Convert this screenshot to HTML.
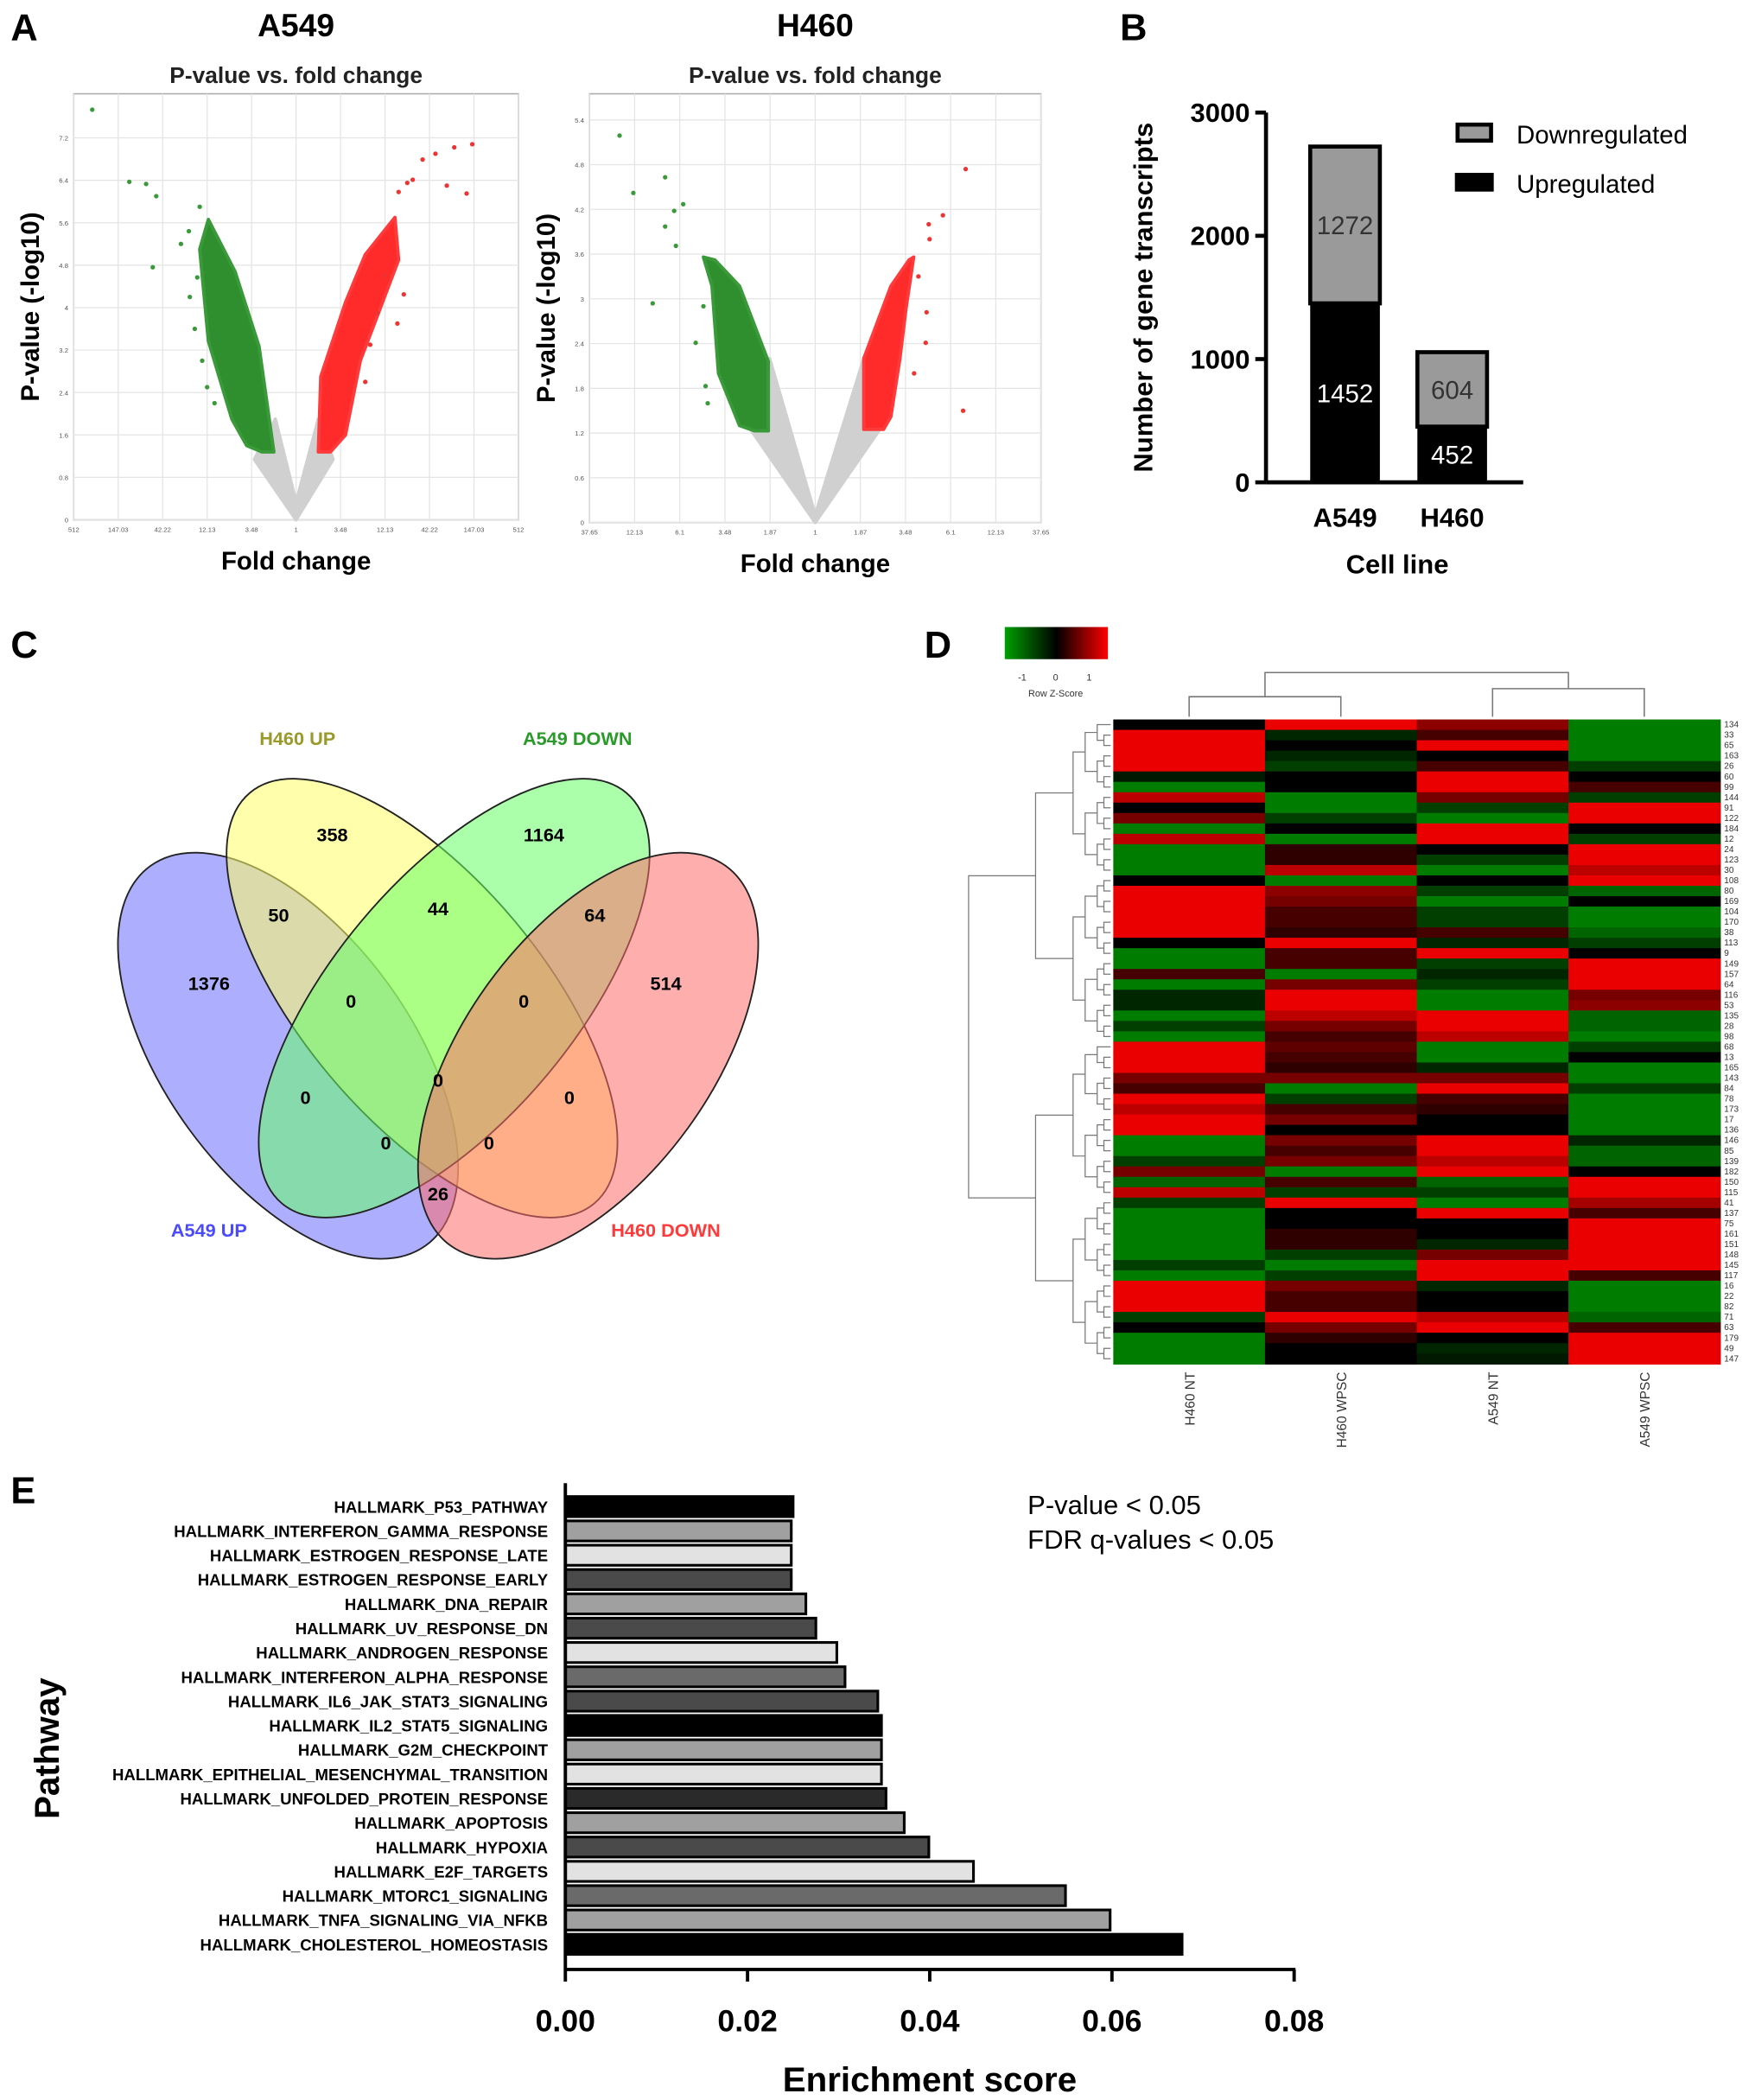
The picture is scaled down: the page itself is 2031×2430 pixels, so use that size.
<!DOCTYPE html>
<html><head><meta charset="utf-8"><style>
html,body{margin:0;padding:0;background:#fff}
svg{display:block;font-family:"Liberation Sans",Arial,sans-serif}
</style></head><body>
<svg id="fig" width="2031" height="2430" viewBox="0 0 1310 1567.4" xmlns="http://www.w3.org/2000/svg">
<g font-weight="bold" font-size="28">
<text x="8" y="30">A</text>
<text x="836" y="30">B</text>
<text x="8" y="491">C</text>
<text x="690" y="491">D</text>
<text x="8" y="1122">E</text>
</g>
<g id="volcA"></g>
<g id="volcH"></g>
<g id="barB"></g>
<g id="venn"></g>
<g id="heat"></g>
<g id="barE"></g>
</svg>
<script>
const NS="http://www.w3.org/2000/svg";
function el(p,tag,attrs,txt){const e=document.createElementNS(NS,tag);for(const k in attrs)e.setAttribute(k,attrs[k]);if(txt!==undefined)e.textContent=txt;p.appendChild(e);return e;}

// ---------- Panel A data ----------
const volcA_yTicks=["0","0.8","1.6","2.4","3.2","4","4.8","5.6","6.4","7.2"];
const volcA_xTicks=["512","147.03","42.22","12.13","3.48","1","3.48","12.13","42.22","147.03","512"];
const volcA_downFC=[-8.25,-6.75,-6.07,-5.66,-5.8,-4.66,-4.34,-3.9,-4.0,-4.3,-4.1,-3.8,-3.6,-3.3];
const volcA_downP=[7.73,6.37,6.33,6.1,4.76,5.2,5.44,5.9,4.57,4.2,3.6,3.0,2.5,2.2];
const volcA_upFC=[7.13,6.4,5.64,5.12,4.72,4.5,6.1,6.9,4.15,4.36,4.1,3.6,3.3,3.0,2.8];
const volcA_upP=[7.08,7.02,6.9,6.79,6.41,6.35,6.3,6.15,6.18,4.25,3.7,4.6,3.9,3.3,2.6];
const volcH_yTicks=["0","0.6","1.2","1.8","2.4","3","3.6","4.2","4.8","5.4"];
const volcH_xTicks=["37.65","12.13","6.1","3.48","1.87","1","1.87","3.48","6.1","12.13","37.65"];
const volcH_downFC=[-4.55,-3.49,-4.23,-3.78,-3.28,-3.07,-3.49,-3.24,-2.55,-2.78,-2.6,-2.5];
const volcH_downP=[5.19,4.63,4.42,2.94,4.18,4.27,3.97,3.71,1.83,2.41,2.9,1.6];
const volcH_upFC=[3.5,2.97,2.64,2.66,2.57,3.44,2.59,2.4,2.3];
const volcH_upP=[4.74,4.12,4.0,3.8,2.41,1.5,2.82,3.3,2.0];

function volcano(gid,title,x0,x1,y0,y1,fcMax,pMax,yTicks,yStep,xTicks,dFC,dP,uFC,uP,shapes){
  const g=document.getElementById(gid);
  const cx=(x0+x1)/2;
  const sx=v=>cx+v/fcMax*(x1-x0)/2, sy=v=>y1-v/pMax*(y1-y0);
  el(g,"text",{x:cx,y:27,"font-size":24,"font-weight":"bold","text-anchor":"middle",},title);
  el(g,"text",{x:cx,y:y0-8,"font-size":17,"font-weight":"bold","text-anchor":"middle","fill":"#222",},"P-value vs. fold change");
  el(g,"rect",{x:x0,y:y0,width:x1-x0,height:y1-y0,fill:"#fff",stroke:"#aaa","stroke-width":1,});
  yTicks.forEach((t,i)=>{const y=sy(i*yStep);
    const l=el(g,"line",{x1:x0,x2:x1,y1:y,y2:y,stroke:"#e4e4e4","stroke-width":0.8});
    
    
    const tx=el(g,"text",{x:x0-4,y:y+2,"font-size":5,"text-anchor":"end",fill:"#555"},t);
    
    });
  xTicks.forEach((t,i)=>{const x=x0+i*(x1-x0)/(xTicks.length-1);
    const l=el(g,"line",{x1:x,x2:x,y1:y0,y2:y1,stroke:"#e4e4e4","stroke-width":0.8});
    
    
    const tx=el(g,"text",{x:x,y:y1+9,"font-size":5,"text-anchor":"middle",fill:"#555"},t);
    
    });
  for(const s of shapes){
    const pts=s.pts.map(p=>sx(p[0])+","+sy(p[1])).join(" ");
    const pg=el(g,"polygon",{points:pts,fill:s.c,stroke:s.st,"stroke-width":2.5,"stroke-linejoin":"round"});
    
    
  }
  dFC.forEach((v,i)=>{const c=el(g,"circle",{cx:sx(v),cy:sy(dP[i]),r:1.7,fill:"#3a9a3a"});
    
    });
  uFC.forEach((v,i)=>{const c=el(g,"circle",{cx:sx(v),cy:sy(uP[i]),r:1.7,fill:"#ee3333"});
    
    });
  el(g,"text",{x:cx,y:y1+37,"font-size":19,"font-weight":"bold","text-anchor":"middle",},"Fold change");
  el(g,"text",{x:0,y:0,"font-size":19,"font-weight":"bold","text-anchor":"middle",transform:`translate(${x0-26},${(y0+y1)/2}) rotate(-90)`,},"P-value (-log10)");
}
const shapesA=[
 {n:"nonsig-cloud",c:"#d0d0d0",st:"#d0d0d0",pts:[[-1.69,1.14],[0,0],[1.5,1.14],[0.9,1.9],[0,0.33],[-0.84,1.9]]},
 {n:"down-cloud",c:"#2f8f2f",st:"#3a9a3a",pts:[[-1.38,1.28],[-0.9,1.28],[-1.5,3.27],[-2.47,4.68],[-3.55,5.66],[-3.9,5.1],[-3.55,3.37],[-2.6,1.9],[-2.0,1.4]]},
 {n:"up-cloud",c:"#ff2a2a",st:"#ff3a3a",pts:[[0.9,1.28],[1.39,1.28],[2.0,1.6],[2.6,3.0],[4.15,4.9],[4.0,5.7],[2.8,5.0],[2.0,4.1],[1.0,2.7]]}
];
volcano("volcA","A549",55,387,70,388,9,8.03,volcA_yTicks,0.8,volcA_xTicks,volcA_downFC,volcA_downP,volcA_upFC,volcA_upP,shapesA);
const shapesH=[
 {n:"nonsig-cloud",c:"#d0d0d0",st:"#d0d0d0",pts:[[-1.48,1.23],[0,0],[1.48,1.23],[1.13,2.2],[0,0.1],[-1.06,2.2]]},
 {n:"down-cloud",c:"#2f8f2f",st:"#3a9a3a",pts:[[-1.41,1.23],[-1.09,1.23],[-1.09,2.16],[-1.76,3.17],[-2.33,3.52],[-2.6,3.56],[-2.4,3.17],[-2.25,2.0],[-1.76,1.3]]},
 {n:"up-cloud",c:"#ff2a2a",st:"#ff3a3a",pts:[[1.13,1.25],[1.59,1.25],[1.76,1.42],[1.97,2.2],[2.11,2.86],[2.29,3.56],[2.18,3.52],[1.76,3.17],[1.13,2.2]]}
];
volcano("volcH","H460",440,777,70,390,5.25,5.75,volcH_yTicks,0.6,volcH_xTicks,volcH_downFC,volcH_downP,volcH_upFC,volcH_upP,shapesH);

// ---------- Panel B ----------
const bCats=["A549","H460"];
const bUp=[1452,452];
const bDown=[1272,604];
const bTicks=[0,1000,2000,3000];
(function(){
  const g=document.getElementById("barB");
  const y0=360,ppu=276/3000,ax=945;
  const sy=v=>y0-v*ppu;
  el(g,"line",{x1:ax,y1:sy(3000),x2:ax,y2:y0,stroke:"#000","stroke-width":3,});
  el(g,"line",{x1:ax,y1:y0,x2:1137,y2:y0,stroke:"#000","stroke-width":3,});
  bTicks.forEach(t=>{
    const l=el(g,"line",{x1:ax-8,y1:sy(t),x2:ax,y2:sy(t),stroke:"#000","stroke-width":3});
    
    
    const tx=el(g,"text",{x:ax-12,y:sy(t)+7,"font-size":20,"font-weight":"bold","text-anchor":"end"},t);
    
    
  });
  bCats.forEach((c,i)=>{
    const x=978+i*80,w=52;
    const r1=el(g,"rect",{x:x,y:sy(bUp[i]),width:w,height:bUp[i]*ppu,fill:"#000"});
    
    
    const r2=el(g,"rect",{x:x,y:sy(bUp[i]+bDown[i]),width:w,height:bDown[i]*ppu,fill:"#9a9a9a",stroke:"#000","stroke-width":3});
    
    
    const t1=el(g,"text",{x:x+w/2,y:sy(bUp[i]/2)+7,"font-size":19,fill:"#fff","text-anchor":"middle"},bUp[i]);
    
    
    const t2=el(g,"text",{x:x+w/2,y:sy(bUp[i]+bDown[i]/2)+7,"font-size":19,fill:"#333","text-anchor":"middle"},bDown[i]);
    
    
    const t3=el(g,"text",{x:x+w/2,y:393,"font-size":20,"font-weight":"bold","text-anchor":"middle"},c);
    
    
  });
  el(g,"text",{x:1043,y:428,"font-size":20,"font-weight":"bold","text-anchor":"middle",},"Cell line");
  el(g,"text",{x:0,y:0,"font-size":20,"font-weight":"bold","text-anchor":"middle",transform:"translate(860,222) rotate(-90)",},"Number of gene transcripts");
  el(g,"rect",{x:1088,y:93,width:25,height:12,fill:"#9a9a9a",stroke:"#000","stroke-width":3,});
  el(g,"text",{x:1132,y:107,"font-size":19,},"Downregulated");
  el(g,"rect",{x:1086,y:129,width:29,height:14,fill:"#000",});
  el(g,"text",{x:1132,y:144,"font-size":19,},"Upregulated");
})();

// ---------- Panel C ----------
(function(){
  const g=document.getElementById("venn");
  const E=[["venn-a549-up",215,788,92,175,-36,"#6b6bff"],["venn-h460-up",315,745,90,200,-40,"#ffff66"],["venn-a549-down",339,745,90,200,40,"#66ff66"],["venn-h460-down",439,788,92,175,36,"#ff6b6b"]];
  E.forEach(e=>{const o=el(g,"ellipse",{cx:e[1],cy:e[2],rx:e[3],ry:e[4],transform:`rotate(${e[5]} ${e[1]} ${e[2]})`,fill:e[6],"fill-opacity":0.55,stroke:"#222","stroke-width":1.2});
    
    });
  const N=[[248,628,"358"],[406,628,"1164"],[156,739,"1376"],[497,739,"514"],[208,688,"50"],[327,683,"44"],[444,688,"64"],[262,752,"0"],[391,752,"0"],[327,811,"0"],[228,824,"0"],[425,824,"0"],[288,858,"0"],[365,858,"0"],[327,896,"26"]];
  N.forEach(n=>{const t=el(g,"text",{x:n[0],y:n[1],"font-size":14,"font-weight":"bold","text-anchor":"middle"},n[2]);
    
    });
  const L=[[222,556,"H460 UP","#9a9a2a"],[431,556,"A549 DOWN","#2a9a2a"],[156,923,"A549 UP","#4a4aff"],[497,923,"H460 DOWN","#ff3a3a"]];
  L.forEach(l=>{const t=el(g,"text",{x:l[0],y:l[1],"font-size":14,"font-weight":"bold","text-anchor":"middle",fill:l[3]},l[2]);
    
    });
})();

// ---------- Panel D ----------
const hmRows=["134","33","65","163","26","60","99","144","91","122","184","12","24","123","30","108","80","169","104","170","38","113","9","149","157","64","116","53","135","28","98","68","13","165","143","84","78","173","17","136","146","85","139","182","150","115","41","137","75","161","151","148","145","117","16","22","82","71","63","179","49","147"];
const hmCols=["H460 NT","H460 WPSC","A549 NT","A549 WPSC"];
const hmH460NT=[0,1,1,1,1,-0.2,-1,0.8,0,0.5,-1,0.8,-1,-1,-1,0,1,1,1,1,1,0,-1,-1,0.3,-1,-0.3,-0.3,-1,-0.5,-1,1,1,1,0.5,0.3,1,0.8,1,1,-1,-1,-0.5,0.5,-0.8,0.8,-0.5,-1,-1,-1,-1,-1,-0.5,-1,1,1,1,-0.5,0,-1,-1,-1];
const hmH460WPSC=[1,-0.3,0,-0.3,-0.5,0,0,-1,-1,-0.5,0,-1,0.2,0.2,0.8,-1,0.6,0.5,0.3,0.3,0.2,1,0.3,0.3,-1,0.5,1,1,0.8,0.5,0.3,0.4,0.3,0.2,0.5,-1,-0.5,0.3,0.5,0,0.5,0.3,0.5,-1,0.3,-0.5,1,0,0,0.2,0.2,-0.5,-1,-0.5,0.5,0.3,0.3,1,0.5,0.2,0,0];
const hmA549NT=[0.6,0.3,1,0,0.3,1,1,0.5,-0.5,-1,1,1,0,-0.5,-1,0,-0.5,-1,-0.5,-0.5,0.3,-0.3,1,-0.5,-0.3,-0.5,-1,-1,1,1,0.8,-1,-1,-0.3,0.5,1,0.3,0.2,0,0,1,1,0.8,1,-0.8,-0.5,-1,1,0,0,-0.3,0.5,1,1,-0.3,0,0,0.8,1,0,-0.3,-0.2];
const hmA549WPSC=[-1,-1,-1,-1,-0.5,0,0.3,-0.5,1,1,0,-0.5,1,1,0.8,1,-0.8,0,-1,-1,-0.8,-0.5,0,1,1,1,0.5,0.6,-0.8,-0.8,-1,-0.5,0,-1,-1,-0.5,-1,-1,-1,-1,-0.3,-0.8,-0.8,0,1,1,0.7,0.3,1,1,1,1,1,0.3,-1,-1,-1,-0.8,0.3,1,1,1];
(function(){
  const g=document.getElementById("heat");
  const X0=831,X1=1284,Y0=537,Y1=1018;
  const cw=(X1-X0)/hmCols.length, rh=(Y1-Y0)/hmRows.length;
  const data=[hmH460NT,hmH460WPSC,hmA549NT,hmA549WPSC];
  function col(v){v=Math.max(-1,Math.min(1,v));if(v>=0)return `rgb(${Math.round(235*v)},0,0)`;return `rgb(0,${Math.round(-125*v)},0)`;}
  data.forEach((arr,c)=>arr.forEach((v,r)=>{
    const rc=el(g,"rect",{x:X0+c*cw,y:Y0+r*rh,width:cw+0.5,height:rh+0.5,fill:col(v)});
    
    
  }));
  hmRows.forEach((l,r)=>{const t=el(g,"text",{x:X1+3,y:Y0+r*rh+rh/2+2,"font-size":6.5,fill:"#333"},l);
    
    });
  hmCols.forEach((l,c)=>{const t=el(g,"text",{x:0,y:0,"font-size":10,fill:"#333","text-anchor":"end",transform:`translate(${X0+c*cw+cw/2+4},${Y1+6}) rotate(-90)`},l);
    
    });
  const cxs=hmCols.map((_,c)=>X0+c*cw+cw/2);
  const dp=`M${cxs[0]},${Y0-2}V520H${cxs[1]}V${Y0-2} M${cxs[2]},${Y0-2}V514H${cxs[3]}V${Y0-2} M${(cxs[0]+cxs[1])/2},520V502H${(cxs[2]+cxs[3])/2}V514`;
  el(g,"path",{d:dp,fill:"none",stroke:"#777","stroke-width":1,});
  let d="";
  function node(a,b,depth){
    if(b-a<=1){return [Y0+a*rh+rh/2,829];}
    const m=Math.floor((a+b)/2);
    const L=node(a,m,depth+1),R=node(m,b,depth+1);
    const x=Math.min(L[1],R[1])-(depth<2?(depth==0?50:28):(b-a>6?9:5));
    d+=`M${L[1]},${L[0]}H${x}V${R[0]}H${R[1]}`;
    return [(L[0]+R[0])/2,x];
  }
  node(0,hmRows.length,0);
  el(g,"path",{d:d,fill:"none",stroke:"#777","stroke-width":0.8,});
  const defs=el(g,"defs",{});
  const lg=el(defs,"linearGradient",{id:"zk",x1:"0",x2:"1",y1:"0",y2:"0"});
  el(lg,"stop",{offset:"0","stop-color":"#00a000"});el(lg,"stop",{offset:"0.5","stop-color":"#000"});el(lg,"stop",{offset:"1","stop-color":"#ff0000"});
  el(g,"rect",{x:750,y:468,width:77,height:24,fill:"url(#zk)",});
  [["-1",763],["0",788],["1",813]].forEach(k=>{const t=el(g,"text",{x:k[1],y:508,"font-size":7,"text-anchor":"middle",fill:"#333"},k[0]);
    
    });
  el(g,"text",{x:788,y:520,"font-size":7,"text-anchor":"middle",fill:"#333",},"Row Z-Score");
})();

// ---------- Panel E ----------
const eNames=["HALLMARK_P53_PATHWAY","HALLMARK_INTERFERON_GAMMA_RESPONSE","HALLMARK_ESTROGEN_RESPONSE_LATE","HALLMARK_ESTROGEN_RESPONSE_EARLY","HALLMARK_DNA_REPAIR","HALLMARK_UV_RESPONSE_DN","HALLMARK_ANDROGEN_RESPONSE","HALLMARK_INTERFERON_ALPHA_RESPONSE","HALLMARK_IL6_JAK_STAT3_SIGNALING","HALLMARK_IL2_STAT5_SIGNALING","HALLMARK_G2M_CHECKPOINT","HALLMARK_EPITHELIAL_MESENCHYMAL_TRANSITION","HALLMARK_UNFOLDED_PROTEIN_RESPONSE","HALLMARK_APOPTOSIS","HALLMARK_HYPOXIA","HALLMARK_E2F_TARGETS","HALLMARK_MTORC1_SIGNALING","HALLMARK_TNFA_SIGNALING_VIA_NFKB","HALLMARK_CHOLESTEROL_HOMEOSTASIS"];
const eScores=[0.025,0.0248,0.0248,0.0248,0.0264,0.0275,0.0298,0.0307,0.0343,0.0347,0.0347,0.0347,0.0352,0.0372,0.0399,0.0448,0.0549,0.0598,0.0677];
const eTicks=["0.00","0.02","0.04","0.06","0.08"];
(function(){
  const g=document.getElementById("barE");
  const x0=422,x1=966,ay=1470;
  const sx=v=>x0+v/0.08*(x1-x0);
  const fills=["#000","#a0a0a0","#e2e2e2","#4a4a4a","#a0a0a0","#4a4a4a","#e2e2e2","#6a6a6a","#4a4a4a","#000","#a0a0a0","#e2e2e2","#2a2a2a","#a0a0a0","#4a4a4a","#e2e2e2","#6a6a6a","#a0a0a0","#000"];
  const top=1117,pitch=18.15,bh=15;
  eScores.forEach((v,i)=>{
    const y=top+i*pitch;
    const r=el(g,"rect",{x:x0,y:y,width:sx(v)-x0,height:bh,fill:fills[i],stroke:"#000","stroke-width":2});
    
    
    const t=el(g,"text",{x:x0-13,y:y+bh/2+4.5,"font-size":12,"font-weight":"bold","text-anchor":"end"},eNames[i]);
    
    
  });
  el(g,"line",{x1:x0,y1:1107,x2:x0,y2:ay,stroke:"#000","stroke-width":2.5,});
  el(g,"line",{x1:x0-1,y1:ay,x2:x1+1,y2:ay,stroke:"#000","stroke-width":2.5,});
  eTicks.forEach(t=>{
    const x=sx(parseFloat(t));
    const l=el(g,"line",{x1:x,y1:ay,x2:x,y2:ay+9,stroke:"#000","stroke-width":2.5});
    
    
    const tx=el(g,"text",{x:x,y:1516,"font-size":23,"font-weight":"bold","text-anchor":"middle"},t);
    
    
  });
  el(g,"text",{x:694,y:1561,"font-size":26,"font-weight":"bold","text-anchor":"middle",},"Enrichment score");
  el(g,"text",{x:0,y:0,"font-size":26,"font-weight":"bold","text-anchor":"middle",transform:"translate(44,1305) rotate(-90)",},"Pathway");
  el(g,"text",{x:767,y:1130,"font-size":20,},"P-value < 0.05");
  el(g,"text",{x:767,y:1156,"font-size":20,},"FDR q-values < 0.05");
})();
</script>
</body></html>
